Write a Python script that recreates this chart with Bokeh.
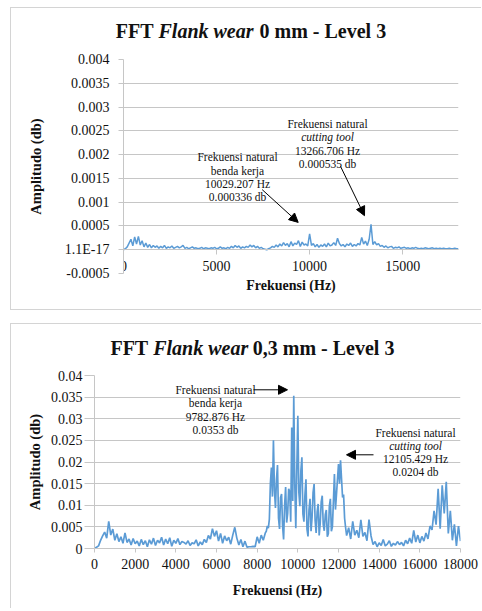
from bokeh.plotting import figure
from bokeh.models import Range1d, FixedTicker, Label, Arrow, NormalHead, LinearAxis, CustomJSTickFormatter
from bokeh.core.properties import value
from bokeh.embed import file_html
from bokeh.resources import INLINE

FONT = "Liberation Serif"
LINE = "#5b9bd5"
GRID = "#c6c6c6"
BORDER = "1px solid #d4d4d4"
TXT = "#111111"

# ---------------- data ----------------
# Flank wear 0 mm: frequency bins (Hz) and amplitude (db)
freq_0mm = [
    0, 100, 200, 300, 400, 500, 600, 700, 800, 900,
    1000, 1100, 1200, 1300, 1400, 1500, 1600, 1700, 1800, 1900,
    2000, 2100, 2200, 2300, 2400, 2500, 2600, 2700, 2800, 2900,
    3000, 3100, 3200, 3300, 3400, 3500, 3600, 3700, 3800, 3900,
    4000, 4100, 4200, 4300, 4400, 4500, 4600, 4700, 4800, 4900,
    5000, 5100, 5200, 5300, 5400, 5500, 5600, 5700, 5800, 5900,
    6000, 6100, 6200, 6300, 6400, 6500, 6600, 6700, 6800, 6900,
    7000, 7100, 7200, 7300, 7400, 7500, 7600, 7700, 7800, 7900,
    8000, 8100, 8200, 8300, 8400, 8500, 8600, 8700, 8800, 8900,
    9000, 9100, 9200, 9300, 9400, 9500, 9600, 9700, 9800, 9900,
    10000, 10100, 10200, 10300, 10400, 10500, 10600, 10700, 10800, 10900,
    11000, 11100, 11200, 11300, 11400, 11500, 11600, 11700, 11800, 11900,
    12000, 12100, 12200, 12300, 12400, 12500, 12600, 12700, 12800, 12900,
    13000, 13100, 13200, 13300, 13400, 13500, 13600, 13700, 13800, 13900,
    14000, 14100, 14200, 14300, 14400, 14500, 14600, 14700, 14800, 14900,
    15000, 15100, 15200, 15300, 15400, 15500, 15600, 15700, 15800, 15900,
    16000, 16100, 16200, 16300, 16400, 16500, 16600, 16700, 16800, 16900,
    17000, 17100, 17200, 17300, 17400, 17500, 17600, 17700, 17800, 17900,
    18000,
]
amp_0mm = [
    0.00000, 0.00002, 0.00006, 0.00014, 0.00022, 0.00008, 0.00027, 0.00012, 0.00028, 0.00010,
    0.00019, 0.00006, 0.00014, 0.00005, 0.00011, 0.00004, 0.00009, 0.00005, 0.00008, 0.00003,
    0.00007, 0.00004, 0.00009, 0.00003, 0.00006, 0.00004, 0.00008, 0.00003, 0.00005, 0.00007,
    0.00004, 0.00006, 0.00009, 0.00003, 0.00005, 0.00002, 0.00004, 0.00006, 0.00003, 0.00004,
    0.00002, 0.00003, 0.00005, 0.00002, 0.00004, 0.00003, 0.00002, 0.00004, 0.00003, 0.00005,
    0.00002, 0.00003, 0.00006, 0.00003, 0.00004, 0.00002, 0.00005, 0.00003, 0.00007, 0.00004,
    0.00009, 0.00005, 0.00008, 0.00003, 0.00006, 0.00004, 0.00007, 0.00005, 0.00010, 0.00006,
    0.00009, 0.00004, 0.00007, 0.00003, 0.00005, 0.00002, 0.00001, 0.00000, 0.00002, 0.00004,
    0.00007, 0.00005, 0.00010, 0.00006, 0.00012, 0.00008, 0.00015, 0.00009, 0.00013, 0.00006,
    0.00017, 0.00008, 0.00014, 0.00011, 0.00019, 0.00007, 0.00016, 0.00010, 0.00012, 0.00008,
    0.000336, 0.00009, 0.00013, 0.00006, 0.00011, 0.00005, 0.00010, 0.00007, 0.00012, 0.00006,
    0.00014, 0.00008, 0.00010, 0.00015, 0.00009, 0.00024, 0.00013, 0.00008, 0.00011, 0.00006,
    0.00012, 0.00009, 0.00014, 0.00007, 0.00011, 0.00008, 0.00013, 0.00010, 0.00026, 0.00012,
    0.00018, 0.00009, 0.00022, 0.000535, 0.00011, 0.00017, 0.00010, 0.00013, 0.00007, 0.00009,
    0.00005, 0.00008, 0.00004, 0.00006, 0.00007, 0.00003, 0.00005, 0.00004, 0.00006, 0.00003,
    0.00004, 0.00005, 0.00003, 0.00004, 0.00002, 0.00004, 0.00003, 0.00005, 0.00003, 0.00002,
    0.00003, 0.00002, 0.00004, 0.00003, 0.00002, 0.00003, 0.00004, 0.00002, 0.00003, 0.00002,
    0.00003, 0.00002, 0.00003, 0.00002, 0.00002, 0.00003, 0.00002, 0.00002, 0.00003, 0.00002,
    0.00002,
]

# Flank wear 0,3 mm: frequency bins (Hz) and amplitude (db)
freq_03mm = [
    0, 100, 200, 300, 400, 500, 600, 700, 800, 900,
    1000, 1100, 1200, 1300, 1400, 1500, 1600, 1700, 1800, 1900,
    2000, 2100, 2200, 2300, 2400, 2500, 2600, 2700, 2800, 2900,
    3000, 3100, 3200, 3300, 3400, 3500, 3600, 3700, 3800, 3900,
    4000, 4100, 4200, 4300, 4400, 4500, 4600, 4700, 4800, 4900,
    5000, 5100, 5200, 5300, 5400, 5500, 5600, 5700, 5800, 5900,
    6000, 6100, 6200, 6300, 6400, 6500, 6600, 6700, 6800, 6900,
    7000, 7100, 7200, 7300, 7400, 7500, 7600, 7700, 7800, 7900,
    8000, 8100, 8200, 8300, 8400, 8450, 8500, 8550, 8600, 8650,
    8700, 8750, 8800, 8850, 8900, 8950, 9000, 9050, 9100, 9150,
    9200, 9250, 9300, 9350, 9400, 9450, 9500, 9550, 9600, 9650,
    9700, 9750, 9800, 9850, 9900, 9950, 10000, 10050, 10100, 10150,
    10200, 10250, 10300, 10350, 10400, 10450, 10500, 10550, 10600, 10650,
    10700, 10750, 10800, 10850, 10900, 10950, 11000, 11050, 11100, 11150,
    11200, 11250, 11300, 11350, 11400, 11450, 11500, 11550, 11600, 11650,
    11700, 11750, 11800, 11850, 11900, 11950, 12000, 12050, 12100, 12150,
    12200, 12250, 12300, 12350, 12400, 12500, 12600, 12700, 12800, 12900,
    13000, 13100, 13200, 13300, 13400, 13500, 13600, 13700, 13800, 13900,
    14000, 14100, 14200, 14300, 14400, 14500, 14600, 14700, 14800, 14900,
    15000, 15100, 15200, 15300, 15400, 15500, 15600, 15700, 15800, 15900,
    16000, 16100, 16200, 16300, 16400, 16500, 16600, 16700, 16800, 16900,
    17000, 17100, 17200, 17300, 17400, 17500, 17600, 17700, 17800, 17900,
    18000,
]
amp_03mm = [
    0.0000, 0.0003, 0.0006, 0.0019, 0.0029, 0.0038, 0.0024, 0.0063, 0.0031, 0.0045,
    0.0019, 0.0034, 0.0016, 0.0027, 0.0012, 0.0036, 0.0014, 0.0022, 0.0008, 0.0023,
    0.0011, 0.0017, 0.0006, 0.0021, 0.0009, 0.0018, 0.0004, 0.0020, 0.0010, 0.0024,
    0.0007, 0.0019, 0.0013, 0.0026, 0.0008, 0.0022, 0.0011, 0.0025, 0.0005, 0.0019,
    0.0012, 0.0023, 0.0009, 0.0016, 0.0014, 0.0010, 0.0018, 0.0007, 0.0013, 0.0011,
    0.0020, 0.0006, 0.0015, 0.0009, 0.0021, 0.0014, 0.0030, 0.0022, 0.0046, 0.0028,
    0.0041, 0.0017, 0.0035, 0.0012, 0.0029, 0.0018, 0.0026, 0.0010, 0.0031, 0.0049,
    0.0024, 0.0008, 0.0021, 0.0004, 0.0017, 0.0003, 0.0004, 0.0004, 0.0005, 0.0004,
    0.0027, 0.0012, 0.0031, 0.0019, 0.0036, 0.0040, 0.0052, 0.0047, 0.0068, 0.0150,
    0.0187, 0.0120, 0.0250, 0.0135, 0.0094, 0.0160, 0.0193, 0.0070, 0.0045, 0.0118,
    0.0126, 0.0052, 0.0021, 0.0100, 0.0142, 0.0060, 0.0081, 0.0138, 0.0131, 0.0062,
    0.0280, 0.0110, 0.0353, 0.0150, 0.0047, 0.0185, 0.0307, 0.0130, 0.0098, 0.0180,
    0.0211, 0.0080, 0.0062, 0.0125, 0.0160, 0.0045, 0.0028, 0.0090, 0.0115, 0.0040,
    0.0072, 0.0130, 0.0149, 0.0065, 0.0036, 0.0085, 0.0103, 0.0030, 0.0058, 0.0108,
    0.0122, 0.0055, 0.0041, 0.0078, 0.0089, 0.0027, 0.0034, 0.0098, 0.0115, 0.0040,
    0.0050, 0.0110, 0.0172, 0.0090, 0.0125, 0.0160, 0.0195, 0.0150, 0.0204, 0.0160,
    0.0118, 0.0125, 0.0070, 0.0048, 0.0030, 0.0048, 0.0022, 0.0063, 0.0031, 0.0042,
    0.0025, 0.0066, 0.0028, 0.0037, 0.0018, 0.0067, 0.0029, 0.0009, 0.0016, 0.0004,
    0.0013, 0.0007, 0.0021, 0.0006, 0.0010, 0.0018, 0.0005, 0.0012, 0.0008, 0.0016,
    0.0009, 0.0014, 0.0006, 0.0019, 0.0011, 0.0024, 0.0012, 0.0042, 0.0015, 0.0031,
    0.0013, 0.0028, 0.0017, 0.0036, 0.0022, 0.0052, 0.0043, 0.0087, 0.0055, 0.0138,
    0.0046, 0.0146, 0.0081, 0.0154, 0.0035, 0.0087, 0.0019, 0.0056, 0.0006, 0.0052,
    0.0017,
]

top_title = ["FFT", "Flank wear", "0 mm - Level 3"]
bot_title = ["FFT", "Flank wear", "0,3 mm - Level 3"]
x_title = "Frekuensi (Hz)"
y_title = "Amplitudo (db)"

top_yticks = [-0.0005, 0.0, 0.0005, 0.001, 0.0015, 0.002, 0.0025, 0.003, 0.0035, 0.004]
top_ylabels = ["-0.0005", "1.1E-17", "0.0005", "0.001", "0.0015", "0.002", "0.0025", "0.003", "0.0035", "0.004"]
top_xticks = [0, 5000, 10000, 15000]

bot_yticks = [0.0, 0.005, 0.01, 0.015, 0.02, 0.025, 0.03, 0.035, 0.04]
bot_ylabels = ["0", "0.005", "0.01", "0.015", "0.02", "0.025", "0.03", "0.035", "0.04"]
bot_xticks = [0, 2000, 4000, 6000, 8000, 10000, 12000, 14000, 16000, 18000]

top_note1 = ["Frekuensi natural", "cutting tool", "13266.706 Hz", "0.000535 db"]
top_note2 = ["Frekuensi natural", "benda kerja", "10029.207 Hz", "0.000336 db"]
bot_note1 = ["Frekuensi natural", "benda kerja", "9782.876 Hz", "0.0353 db"]
bot_note2 = ["Frekuensi natural", "cutting tool", "12105.429 Hz", "0.0204 db"]


# ---------------- helpers ----------------
class Frame:
    """Maps page pixel positions to data coordinates of a chart frame."""
    def __init__(self, px0, px1, py0, py1, xr, yr):
        self.px0, self.px1, self.py0, self.py1 = px0, px1, py0, py1
        self.xr, self.yr = xr, yr

    def x(self, px):
        return self.xr[0] + (px - self.px0) / (self.px1 - self.px0) * (self.xr[1] - self.xr[0])

    def y(self, py):
        return self.yr[1] - (py - self.py0) / (self.py1 - self.py0) * (self.yr[1] - self.yr[0])


W = 471  # canvas width of every figure (page x 11 .. 482)


def title_strip(top, h, parts, x_it0, x_it1, py, margin, styles):
    """A small axis-free figure whose data coordinates are page pixels."""
    p = figure(width=W, height=h, x_range=Range1d(11, 11 + W), y_range=Range1d(top + h, top),
               x_axis_type=None, y_axis_type=None, toolbar_location=None, output_backend="svg",
               min_border=0, min_border_left=0, min_border_right=0, min_border_top=0, min_border_bottom=0,
               margin=margin, outline_line_color=None,
               background_fill_color="white", border_fill_color="white")
    p.grid.visible = False
    p.styles = styles
    common = dict(text_font=value(FONT), text_font_size=value("20px"), text_color=TXT, text_baseline="middle")
    p.text(x=[x_it0 - 5], y=[py], text=[parts[0]], text_align="right", text_font_style="bold", **common)
    p.text(x=[x_it0], y=[py], text=[parts[1]], text_align="left", text_font_style="bold italic", **common)
    p.text(x=[x_it1 + 5], y=[py], text=[parts[2]], text_align="left", text_font_style="bold", **common)
    return p


def make_fig(h, fr, oy, margin, styles, yticks, ylabels, xticks, y_tick_out, y_standoff, y_label_standoff):
    ox = 11
    p = figure(
        width=W, height=h,
        x_range=Range1d(*fr.xr), y_range=Range1d(*fr.yr),
        toolbar_location=None, output_backend="svg",
        min_border_left=int(round(fr.px0 - ox)), min_border_right=int(round(ox + W - fr.px1)),
        min_border_top=int(round(fr.py0 - oy)), min_border_bottom=int(round(oy + h - fr.py1)),
        margin=margin,
        background_fill_color="white", border_fill_color="white",
    )
    p.styles = styles
    p.outline_line_color = None
    p.xgrid.visible = False
    p.ygrid.grid_line_color = GRID
    p.ygrid.grid_line_width = 1
    p.ygrid.ticker = FixedTicker(ticks=yticks)

    ya = p.yaxis[0]
    ya.ticker = FixedTicker(ticks=yticks)
    ya.formatter = CustomJSTickFormatter(
        args=dict(tick_values=yticks, tick_texts=ylabels),
        code="""
            for (let i = 0; i < tick_values.length; i++) {
                if (Math.abs(tick_values[i] - tick) < 1e-12) { return tick_texts[i]; }
            }
            return "";
        """,
    )
    ya.axis_line_color = GRID
    ya.major_tick_line_color = GRID
    ya.major_tick_out = y_tick_out
    ya.major_tick_in = 0
    ya.minor_tick_line_color = None
    ya.major_label_standoff = y_standoff
    ya.major_label_text_font = FONT
    ya.major_label_text_font_size = "14px"
    ya.major_label_text_color = TXT
    ya.axis_label = y_title
    ya.axis_label_text_font = FONT
    ya.axis_label_text_font_style = "bold"
    ya.axis_label_text_font_size = "14.5px"
    ya.axis_label_text_color = TXT
    ya.axis_label_standoff = y_label_standoff

    xa = p.xaxis[0]
    xa.ticker = FixedTicker(ticks=xticks)
    xa.axis_line_color = GRID
    xa.major_tick_line_color = GRID
    xa.major_tick_out = 5
    xa.major_tick_in = 0
    xa.minor_tick_line_color = None
    xa.major_label_text_font = FONT
    xa.major_label_text_font_size = "14px"
    xa.major_label_text_color = TXT
    return p


def style_xlabel(axis, standoff):
    axis.axis_label = x_title
    axis.axis_label_text_font = FONT
    axis.axis_label_text_font_style = "bold"
    axis.axis_label_text_font_size = "14px"
    axis.axis_label_text_color = TXT
    axis.axis_label_standoff = standoff


def add_note(p, fr, lines, cx, ys):
    for txt, py in zip(lines, ys):
        p.add_layout(Label(
            x=fr.x(cx), y=fr.y(py), text=txt, text_align="center", text_baseline="middle",
            text_font=FONT, text_font_size="11.5px", text_color=TXT,
            text_font_style="italic" if txt == "cutting tool" else "normal",
        ))


def add_arrow(p, fr, x0, y0, x1, y1):
    p.add_layout(Arrow(
        end=NormalHead(size=9, fill_color="black", line_color="black", line_width=1),
        x_start=fr.x(x0), y_start=fr.y(y0), x_end=fr.x(x1), y_end=fr.y(y1),
        line_color="black", line_width=1,
    ))


# ---------------- top panel ----------------
t1 = title_strip(8, 44, top_title, 158, 254, 30, (7, 0, 0, 10),
                 {"border-left": BORDER, "border-top": BORDER})

fr1 = Frame(123, 458, 60, 273.75, (0, 18000), (-0.0005, 0.004))
p1 = make_fig(259, fr1, 52, (0, 0, 0, 10),
              {"border-left": BORDER, "border-bottom": BORDER},
              top_yticks, top_ylabels, top_xticks, 5, 9, 18)
xa1 = p1.xaxis[0]
xa1.fixed_location = 0
xa1.major_label_standoff = 6
# extra bottom axis that only carries the axis title below the frame
title_axis = LinearAxis(ticker=FixedTicker(ticks=[]), axis_line_color=None,
                        major_tick_line_color=None, minor_tick_line_color=None)
style_xlabel(title_axis, 4)
p1.add_layout(title_axis, "below")
p1.line(freq_0mm, amp_0mm, line_color=LINE, line_width=1.5)
add_note(p1, fr1, top_note1, 327, [124, 137.7, 151, 164])
add_note(p1, fr1, top_note2, 237, [157.7, 171, 184.3, 197.7])
add_arrow(p1, fr1, 340, 166.7, 364, 216)
add_arrow(p1, fr1, 261.7, 190, 297.7, 222.7)

# ---------------- bottom panel ----------------
t2 = title_strip(326, 44, bot_title, 152.7, 247.3, 349, (13, 0, 0, 10),
                 {"border-left": BORDER, "border-top": BORDER})

fr2 = Frame(94, 460, 378, 551, (0, 18000), (0, 0.04))
p2 = make_fig(241, fr2, 370, (0, 0, 0, 10), {"border-left": BORDER},
              bot_yticks, bot_ylabels, bot_xticks, 10, 2, 5)
xa2 = p2.xaxis[0]
xa2.major_tick_out = 4
xa2.major_label_standoff = 6
style_xlabel(xa2, 11)
p2.line(freq_03mm, amp_03mm, line_color=LINE, line_width=1.7)
add_note(p2, fr2, bot_note1, 215, [392.7, 405.7, 419, 432.7])
add_note(p2, fr2, bot_note2, 415, [435, 448.3, 461, 474.3])
add_arrow(p2, fr2, 253, 392.3, 287, 392.3)
add_arrow(p2, fr2, 373, 457.3, 346, 457.3)

# separate roots, so that the frames of the four figures are not aligned to each other
open("out.html", "w").write(file_html([t1, p1, t2, p2], INLINE))
